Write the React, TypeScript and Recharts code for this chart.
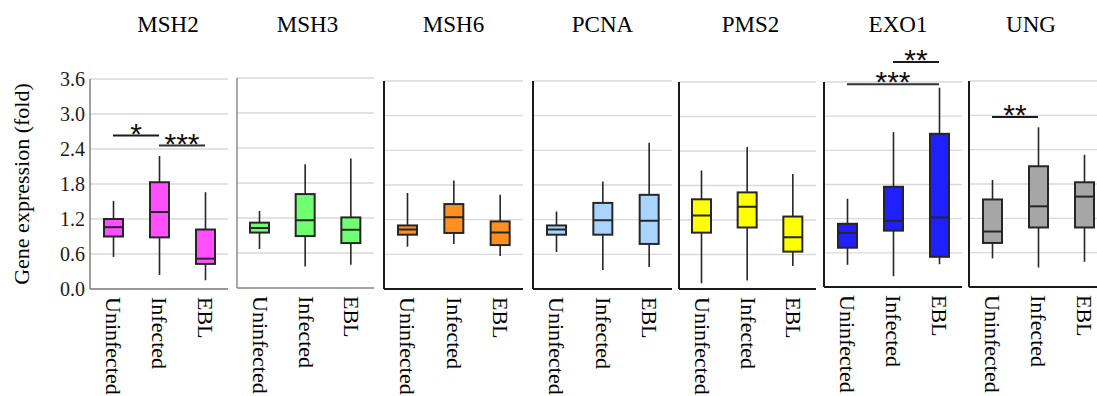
import React from 'react';
import { ComposedChart, Bar, XAxis, YAxis, CartesianGrid, ReferenceLine } from 'recharts';

const GROUPS = ['Uninfected', 'Infected', 'EBL'];
const Y_TICKS = [0, 0.6, 1.2, 1.8, 2.4, 3.0, 3.6];
const GENES = ['MSH2', 'MSH3', 'MSH6', 'PCNA', 'PMS2', 'EXO1', 'UNG'];
const COLORS = ['#FF4FFF', '#70FF70', '#FF8F1F', '#A8D4FF', '#FFFF00', '#1F1FFF', '#A6A6A6'];

// [min, Q1, median, Q3, max] for Uninfected, Infected, EBL
const MSH2_STATS = [
  [0.55, 0.9, 1.06, 1.2, 1.51],
  [0.24, 0.885, 1.32, 1.83, 2.28],
  [0.15, 0.43, 0.52, 1.02, 1.66],
];
const MSH3_STATS = [
  [0.67, 0.95, 1.03, 1.12, 1.32],
  [0.37, 0.89, 1.16, 1.61, 2.12],
  [0.4, 0.77, 1.0, 1.21, 2.22],
];
const MSH6_STATS = [
  [0.73, 0.94, 1.03, 1.1, 1.66],
  [0.78, 0.97, 1.24, 1.47, 1.88],
  [0.57, 0.76, 0.98, 1.17, 1.63],
];
const PCNA_STATS = [
  [0.64, 0.94, 1.03, 1.1, 1.34],
  [0.33, 0.94, 1.19, 1.49, 1.86],
  [0.38, 0.78, 1.18, 1.63, 2.53],
];
const PMS2_STATS = [
  [0.1, 0.98, 1.28, 1.56, 2.06],
  [0.15, 1.07, 1.43, 1.68, 2.47],
  [0.4, 0.65, 0.9, 1.26, 2.0],
];
const EXO1_STATS = [
  [0.39, 0.69, 0.95, 1.11, 1.55],
  [0.19, 0.99, 1.16, 1.76, 2.72],
  [0.4, 0.53, 1.22, 2.69, 3.5],
];
const UNG_STATS = [
  [0.5, 0.77, 0.97, 1.53, 1.87],
  [0.34, 1.04, 1.41, 2.11, 2.79],
  [0.44, 1.04, 1.58, 1.83, 2.31],
];
const STATS = [MSH2_STATS, MSH3_STATS, MSH6_STATS, PCNA_STATS, PMS2_STATS, EXO1_STATS, UNG_STATS];

// significance brackets
const MSH2_SIG = [
  { from: 'Uninfected', to: 'Infected', y: 2.63, mark: '*' },
  { from: 'Infected', to: 'EBL', y: 2.46, mark: '***' },
];
const EXO1_SIG = [
  { from: 'Infected', to: 'EBL', y: 3.95, mark: '**' },
  { from: 'Uninfected', to: 'EBL', y: 3.56, mark: '***' },
];
const UNG_SIG = [{ from: 'Uninfected', to: 'Infected', y: 2.97, mark: '**' }];
const SIGS = [MSH2_SIG, [], [], [], [], EXO1_SIG, UNG_SIG];

// layout of each panel's plot area (pixels)
const PANELS = [
  { left: 90, right: 228, top: 79, bottom: 289, axis: '#808080', axisW: 1.5, titleDx: 9 },
  { left: 237, right: 374, top: 78, bottom: 288, axis: '#8c8c8c', axisW: 1.5, titleDx: 2 },
  { left: 384, right: 523, top: 81, bottom: 289, axis: '#1a1a1a', axisW: 2, titleDx: 0 },
  { left: 533, right: 672, top: 81, bottom: 289, axis: '#1a1a1a', axisW: 2, titleDx: 0 },
  { left: 679, right: 816, top: 82, bottom: 289, axis: '#1a1a1a', axisW: 2, titleDx: 3 },
  { left: 824, right: 962, top: 82, bottom: 287, axis: '#1a1a1a', axisW: 2, titleDx: 5 },
  { left: 969, right: 1107, top: 81, bottom: 287, axis: '#1a1a1a', axisW: 2, titleDx: -7 },
];

const SERIF = "'Liberation Serif', 'Times New Roman', serif";
const SANS = "'Liberation Sans', Arial, sans-serif";
const H = 396;

const XTick = (props: any) => {
  const { x, y, payload } = props;
  return (
    <g transform={`translate(${x},${y})`}>
      <text transform="rotate(90)" x={0} y={0} dy={7} textAnchor="start" fontFamily={SERIF} fontSize={22} fill="#000">
        {payload.value}
      </text>
    </g>
  );
};

const EmptyTick = () => <g />;

const makeBoxShape = (color: string) => (props: any) => {
  const { x, y, width, height, payload } = props;
  const top = Math.min(y, y + height);
  const bot = Math.max(y, y + height);
  const k = (bot - top) / (payload.max - payload.min);
  const Y = (v: number) => bot - (v - payload.min) * k;
  const cx = x + width / 2;
  const stroke = '#262626';
  return (
    <g>
      <line x1={cx} x2={cx} y1={Y(payload.max)} y2={Y(payload.q3)} stroke={stroke} strokeWidth={1.6} />
      <line x1={cx} x2={cx} y1={Y(payload.q1)} y2={Y(payload.min)} stroke={stroke} strokeWidth={1.6} />
      <rect x={x} y={Y(payload.q3)} width={width} height={Y(payload.q1) - Y(payload.q3)} fill={color} stroke={stroke} strokeWidth={2} />
      <line x1={x} x2={x + width} y1={Y(payload.med)} y2={Y(payload.med)} stroke={stroke} strokeWidth={2} />
    </g>
  );
};

const renderYLabel = (props: any) => {
  const vb = props.viewBox || {};
  const lx = (vb.x || 0) + 29;
  const ly = (vb.y || 0) + (vb.height || 0) / 2;
  return (
    <text x={lx} y={ly} transform={`rotate(-90, ${lx}, ${ly})`} textAnchor="middle" fontFamily={SERIF} fontSize={22} fill="#000">
      Gene expression (fold)
    </text>
  );
};

const makeSigLabel = (mark: string) => (props: any) => {
  const vb = props.viewBox || {};
  const cx = (vb.x || 0) + (vb.width || 0) / 2;
  const cy = (vb.y || 0) + 8;
  return (
    <text x={cx} y={cy} textAnchor="middle" fontFamily={SANS} fontSize={30} fill="#111">
      {mark}
    </text>
  );
};

function Panel({ idx }: { idx: number }) {
  const p = PANELS[idx];
  const isFirst = idx === 0;
  const yW = isFirst ? p.left : 1;
  const mL = isFirst ? 0 : 11;
  const mR = 12;
  const plotW = p.right - p.left;
  const width = mL + yW + plotW + mR;
  const chartLeft = p.left - yW - mL;
  const data = GROUPS.map((g, i) => {
    const [min, q1, med, q3, max] = STATS[idx][i];
    return { group: g, min, q1, med, q3, max };
  });
  return (
    <div style={{ position: 'absolute', left: chartLeft, top: 0 }}>
      <ComposedChart width={width} height={H} data={data} margin={{ top: p.top, bottom: 0, left: mL, right: mR }}>
        <CartesianGrid horizontal vertical={false} stroke="#d9d9d9" strokeWidth={1.3} />
        <XAxis
          dataKey="group"
          type="category"
          height={H - p.bottom}
          interval={0}
          tickLine={false}
          tickSize={0}
          tickMargin={8}
          axisLine={{ stroke: p.axis, strokeWidth: p.axisW }}
          tick={<XTick />}
        />
        <YAxis
          type="number"
          domain={[0, 3.6]}
          ticks={Y_TICKS}
          width={yW}
          allowDataOverflow
          tickLine={false}
          tickSize={0}
          tickMargin={5}
          tickFormatter={(v: number) => v.toFixed(1)}
          tick={isFirst ? { fontFamily: SERIF, fontSize: 20, fill: '#1a1a1a' } : EmptyTick}
          axisLine={{ stroke: p.axis, strokeWidth: p.axisW }}
          label={isFirst ? renderYLabel : undefined}
        />
        <Bar
          dataKey={(d: any) => [d.min, d.max]}
          barSize={19}
          fill={COLORS[idx]}
          shape={makeBoxShape(COLORS[idx])}
          isAnimationActive={false}
        />
        {SIGS[idx].map((s, i) => (
          <ReferenceLine
            key={i}
            segment={[{ x: s.from, y: s.y }, { x: s.to, y: s.y }]}
            ifOverflow="visible"
            stroke={i === 0 ? '#1a1a1a' : '#333'}
            strokeWidth={2}
            label={makeSigLabel(s.mark)}
          />
        ))}
      </ComposedChart>
    </div>
  );
}

export default function App() {
  return (
    <div style={{ position: 'absolute', left: 0, top: 0, width: 1097, height: H, overflow: 'hidden', background: '#fff' }}>
      {GENES.map((g, i) => (
        <Panel key={g} idx={i} />
      ))}
      <svg width={1097} height={H} style={{ position: 'absolute', left: 0, top: 0, pointerEvents: 'none' }}>
        {GENES.map((g, i) => (
          <text
            key={g}
            x={(PANELS[i].left + PANELS[i].right) / 2 + PANELS[i].titleDx}
            y={32}
            textAnchor="middle"
            fontFamily={SERIF}
            fontSize={23}
            fill="#000"
          >
            {g}
          </text>
        ))}
      </svg>
    </div>
  );
}
